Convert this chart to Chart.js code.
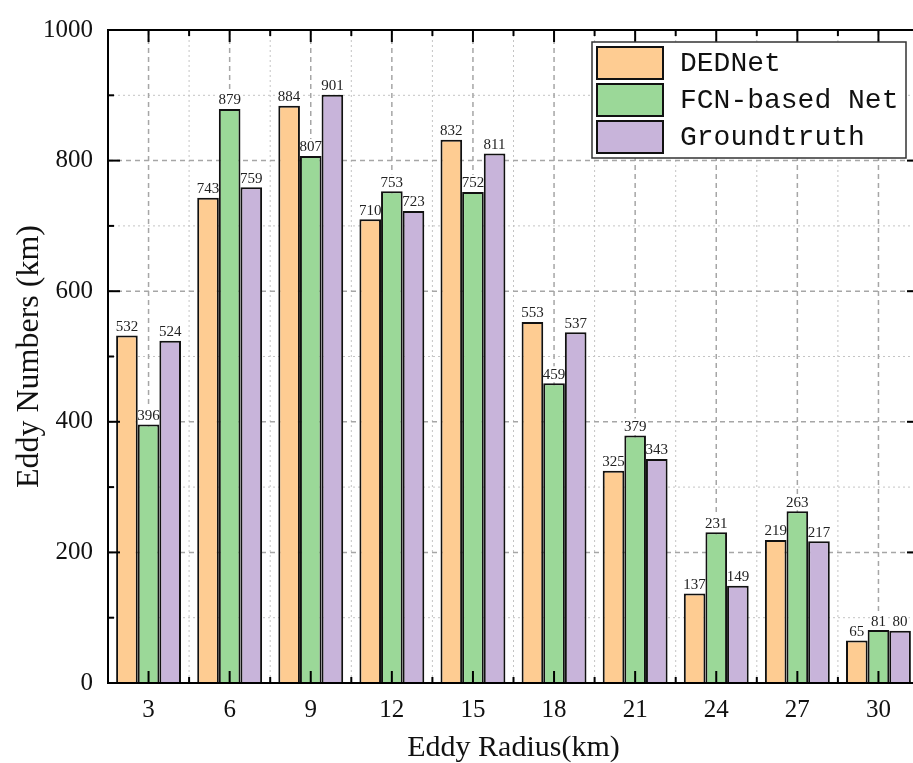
<!DOCTYPE html>
<html>
<head>
<meta charset="utf-8">
<script src="https://cdn.jsdelivr.net/npm/chart.js@4"></script>
<style>
  body { margin: 0; overflow: hidden; background: #fff; }
  #wrap { width: 935px; height: 763px; }
</style>
</head>
<body>
<div id="wrap"><canvas id="eddy-canvas"></canvas></div>
<script>
// values
var radii = ['3', '6', '9', '12', '15', '18', '21', '24', '27', '30'];
var dednet = [532, 743, 884, 710, 832, 553, 325, 137, 219, 65];
var fcnNet = [396, 879, 807, 753, 752, 459, 379, 231, 263, 81];
var groundTruth = [524, 759, 901, 723, 811, 537, 343, 149, 217, 80];
var seriesNames = ['DEDNet', 'FCN-based Net', 'Groundtruth'];
var seriesColors = ['#FECC92', '#9BD898', '#C8B4DA'];

var serif = "'Liberation Serif', 'Times New Roman', serif";

function line(ctx, x1, y1, x2, y2) {
  ctx.beginPath();
  ctx.moveTo(x1, y1);
  ctx.lineTo(x2, y2);
  ctx.stroke();
}

function minorX(xs) {
  var out = [];
  for (var i = 1; i < radii.length; i++) {
    out.push((xs.getPixelForValue(i - 1) + xs.getPixelForValue(i)) / 2);
  }
  return out;
}

var framePlugin = {
  id: 'frame',
  beforeDatasetsDraw: function(chart) {
    var ctx = chart.ctx, a = chart.chartArea, xs = chart.scales.x, ys = chart.scales.y;
    ctx.save();
    // minor grid (dotted)
    ctx.setLineDash([2, 3]);
    ctx.strokeStyle = '#c4c4c4';
    ctx.lineWidth = 1;
    for (var v = 100; v < 1000; v += 200) {
      var py = ys.getPixelForValue(v);
      line(ctx, a.left, py, a.right, py);
    }
    minorX(xs).forEach(function(px) { line(ctx, px, a.top, px, a.bottom); });
    // major grid (dashed)
    ctx.setLineDash([5, 4]);
    ctx.strokeStyle = '#a6a6a6';
    ctx.lineWidth = 1.5;
    for (var w = 200; w < 1000; w += 200) {
      var qy = ys.getPixelForValue(w);
      line(ctx, a.left, qy, a.right, qy);
    }
    for (var i = 0; i < radii.length; i++) {
      var qx = xs.getPixelForValue(i);
      line(ctx, qx, a.top, qx, a.bottom);
    }
    ctx.setLineDash([]);
    // value labels, white box behind, bars paint over them
    ctx.font = '15px ' + serif;
    ctx.textAlign = 'center';
    ctx.textBaseline = 'bottom';
    chart.data.datasets.forEach(function(ds, d) {
      chart.getDatasetMeta(d).data.forEach(function(bar, j) {
        var txt = String(ds.data[j]);
        var tw = ctx.measureText(txt).width;
        ctx.fillStyle = '#fff';
        ctx.fillRect(bar.x - tw / 2 - 1, bar.y - 17, tw + 2, 16);
        ctx.fillStyle = '#222';
        ctx.fillText(txt, bar.x, bar.y - 1);
      });
    });
    ctx.restore();
  },
  afterDatasetsDraw: function(chart) {
    var ctx = chart.ctx, a = chart.chartArea, xs = chart.scales.x, ys = chart.scales.y;
    ctx.save();
    ctx.strokeStyle = '#000';
    ctx.lineWidth = 2;
    // ticks pointing inward on all four sides
    for (var v = 0; v <= 1000; v += 100) {
      var py = ys.getPixelForValue(v);
      var len = v % 200 === 0 ? 12 : 6;
      line(ctx, a.left, py, a.left + len, py);
      line(ctx, a.right, py, a.right - len, py);
    }
    for (var i = 0; i < radii.length; i++) {
      var px = xs.getPixelForValue(i);
      line(ctx, px, a.bottom, px, a.bottom - 12);
      line(ctx, px, a.top, px, a.top + 12);
    }
    minorX(xs).forEach(function(mx) {
      line(ctx, mx, a.bottom, mx, a.bottom - 6);
      line(ctx, mx, a.top, mx, a.top + 6);
    });
    ctx.strokeRect(a.left, a.top, a.right - a.left, a.bottom - a.top);
    ctx.restore();
  },
  afterDraw: function(chart) {
    var ctx = chart.ctx;
    ctx.save();
    // legend box
    ctx.fillStyle = '#fff';
    ctx.fillRect(592, 42, 314, 116);
    ctx.strokeStyle = '#333';
    ctx.lineWidth = 1.5;
    ctx.strokeRect(592, 42, 314, 116);
    ctx.font = "28px 'Liberation Mono', 'DejaVu Sans Mono', monospace";
    ctx.textBaseline = 'middle';
    ctx.textAlign = 'left';
    chart.data.datasets.forEach(function(ds, d) {
      var top = 47 + d * 37;
      ctx.fillStyle = ds.backgroundColor;
      ctx.fillRect(597, top, 66, 32);
      ctx.strokeStyle = '#111';
      ctx.lineWidth = 2;
      ctx.strokeRect(597, top, 66, 32);
      ctx.fillStyle = '#111';
      ctx.fillText(ds.label, 680, top + 17);
    });
    ctx.restore();
  }
};

var datasets = [];
[dednet, fcnNet, groundTruth].forEach(function(values, k) {
  datasets.push({
    label: seriesNames[k],
    data: values,
    backgroundColor: seriesColors[k],
    borderColor: '#111',
    borderWidth: 2,
    categoryPercentage: 0.8,
    barPercentage: 1.0
  });
});

window.onload = function() {
  var ctx = document.getElementById('eddy-canvas').getContext('2d');
  window.eddyChart = new Chart(ctx, {
    type: 'bar',
    data: { labels: radii, datasets: datasets },
    plugins: [framePlugin],
    options: {
      responsive: true,
      maintainAspectRatio: false,
      animation: false,
      layout: { padding: { left: 0, top: 28, right: 16, bottom: 0 } },
      plugins: {
        legend: { display: false },
        tooltip: { enabled: false }
      },
      scales: {
        x: {
          offset: true,
          grid: { display: false, drawTicks: false },
          border: { display: false },
          ticks: { color: '#111', padding: 12, font: { family: serif, size: 25 } },
          title: {
            display: true,
            text: 'Eddy Radius(km)',
            color: '#111',
            padding: { top: 0, bottom: 0 },
            font: { family: serif, size: 30, lineHeight: 1 }
          },
          afterFit: function(s) { s.height = 80; }
        },
        y: {
          min: 0,
          max: 1000,
          grid: { display: false, drawTicks: false },
          border: { display: false },
          ticks: {
            stepSize: 200,
            color: '#111',
            padding: 15,
            font: { family: serif, size: 25 },
            callback: function(value) { return String(value); }
          },
          title: {
            display: true,
            text: 'Eddy Numbers (km)',
            color: '#111',
            padding: { top: 14, bottom: 0 },
            font: { family: serif, size: 32, lineHeight: 1 }
          },
          afterFit: function(s) { s.width = 108; }
        }
      }
    }
  });
};
</script>
</body>
</html>
